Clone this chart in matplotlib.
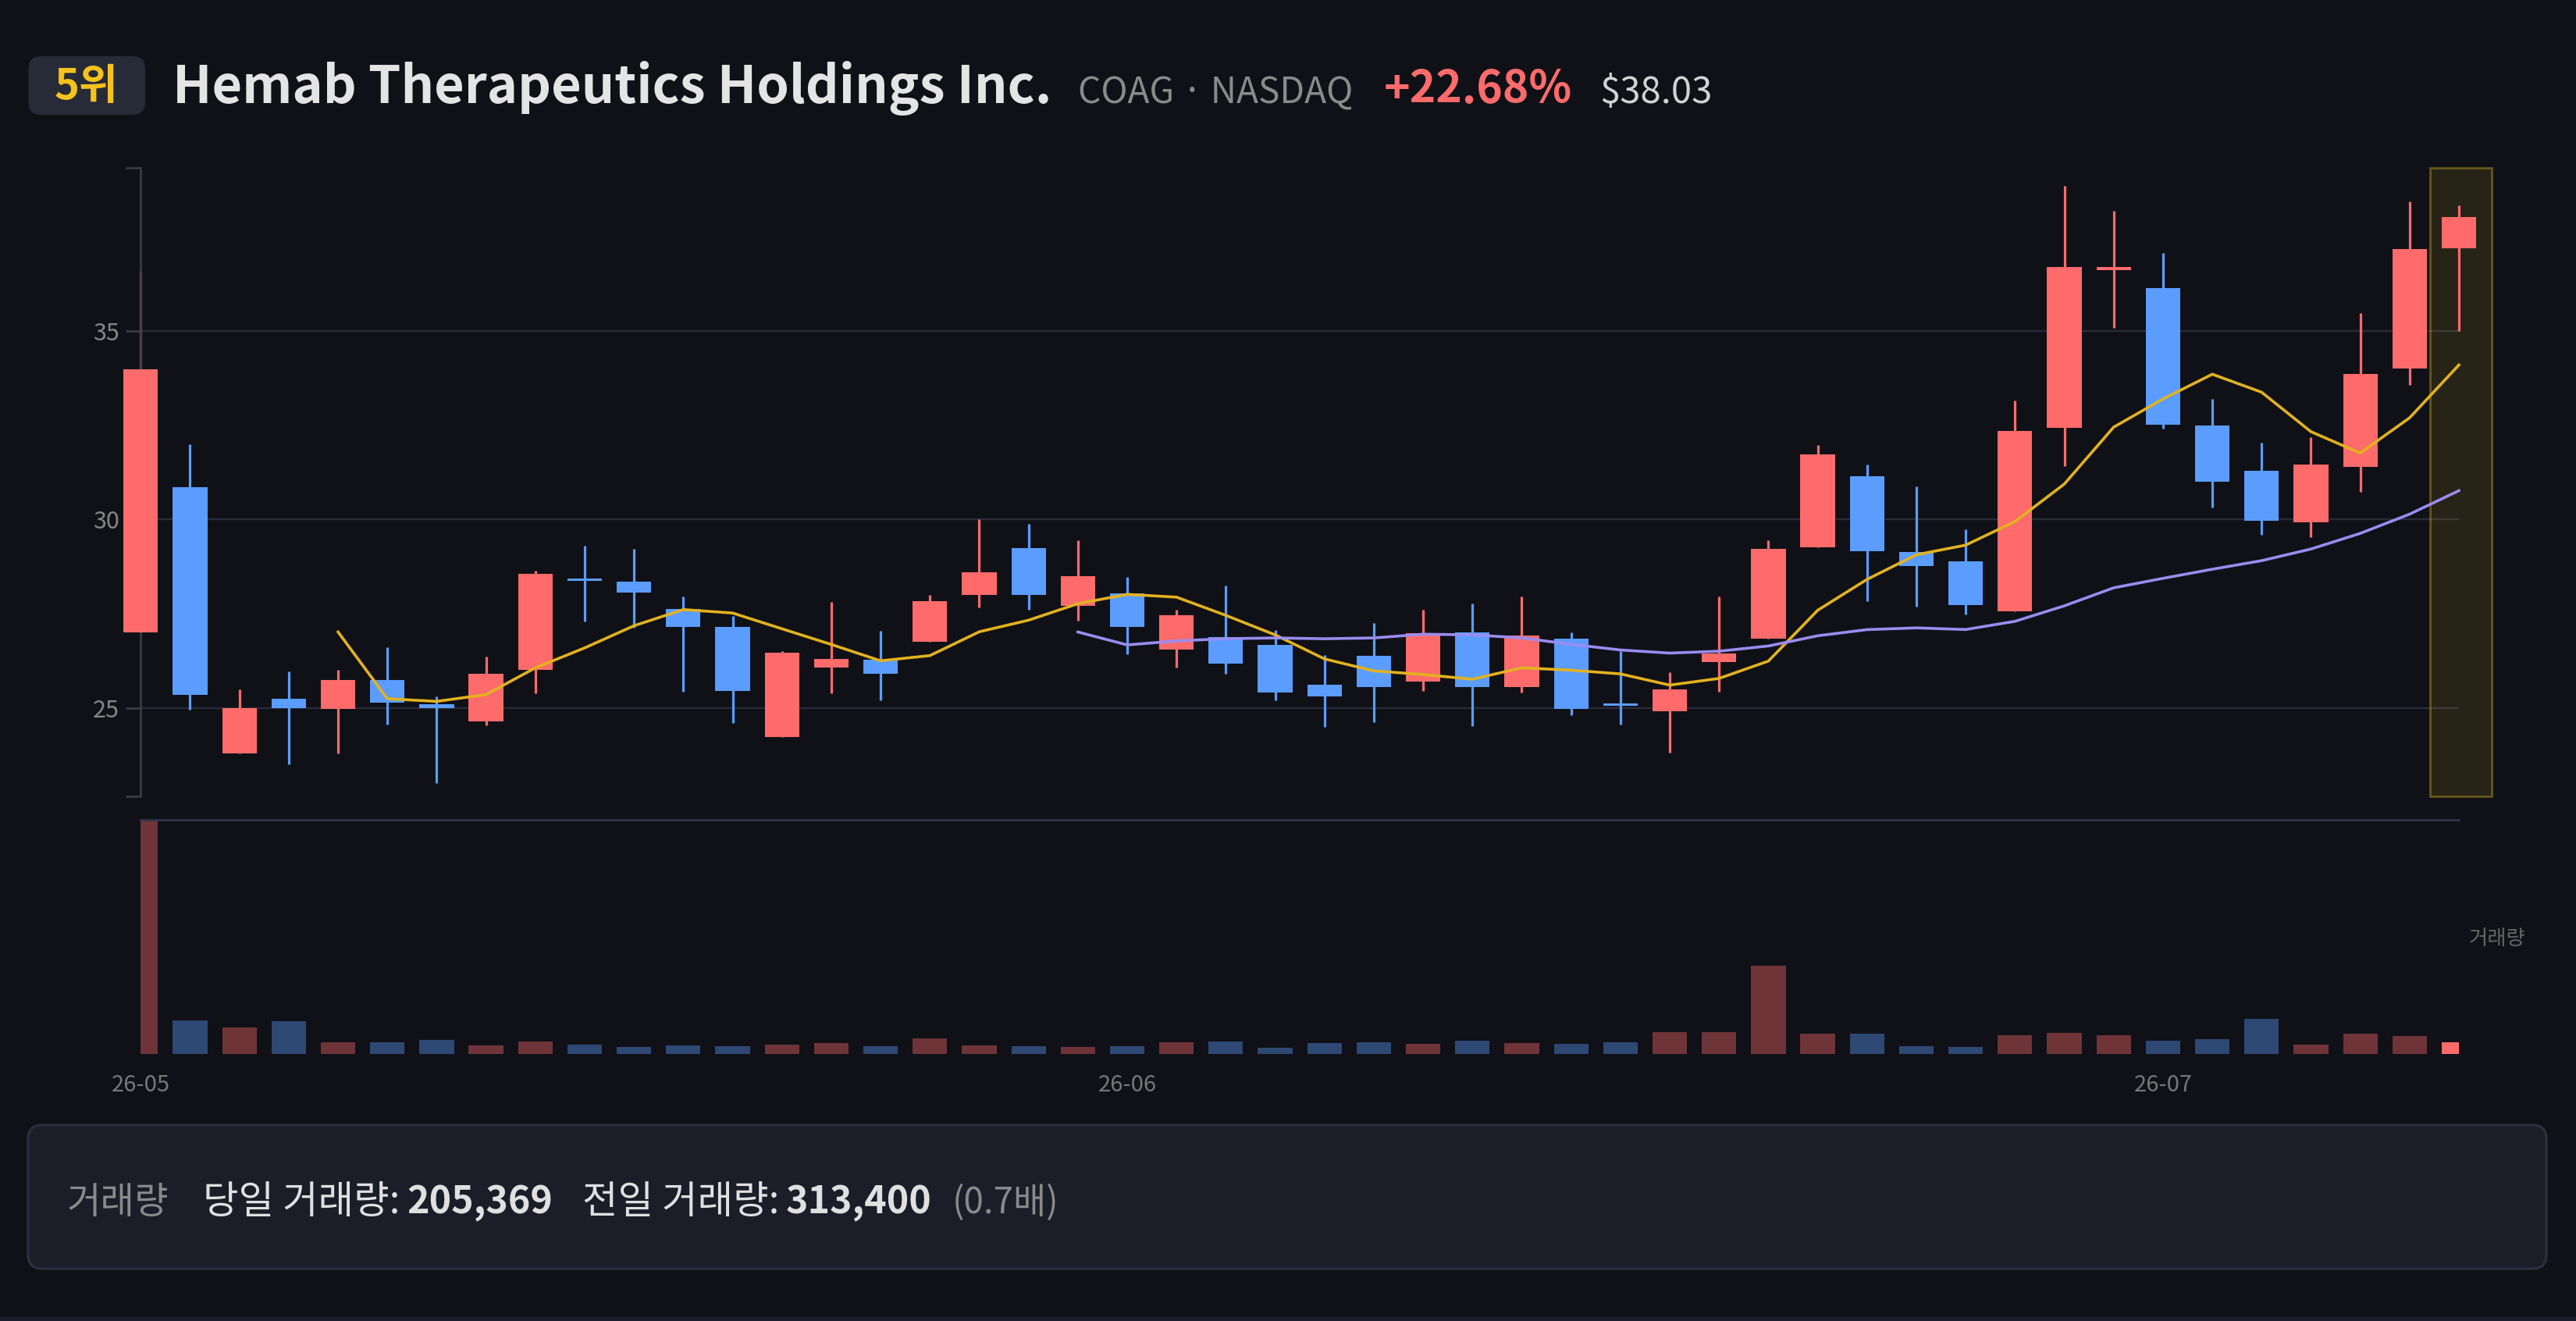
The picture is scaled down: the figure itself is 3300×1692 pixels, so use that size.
import matplotlib
matplotlib.use("Agg")
import matplotlib.pyplot as plt
from matplotlib.patches import FancyBboxPatch, Rectangle
import numpy as np
import pandas as pd

plt.rcParams['font.family'] = ['Noto Sans CJK KR', 'DejaVu Sans']

# ---------------- data ----------------
dates = (["2026-05-01"] +
         ["2026-05-%02d" % d for d in (4, 5, 6, 7, 8, 11, 12, 13, 14, 15, 18, 19, 20, 21, 22, 26, 27, 28, 29)] +
         ["2026-06-%02d" % d for d in (1, 2, 3, 4, 5, 8, 9, 10, 11, 12, 15, 16, 17, 18, 22, 23, 24, 25, 26, 29, 30)] +
         ["2026-07-%02d" % d for d in (1, 2, 6, 7, 8, 9, 10)])

opens = [27.00, 30.86, 23.80, 25.24, 24.97, 25.73, 25.09, 24.64, 26.01, 28.43,
         28.35, 27.62, 27.15, 24.22, 26.07, 26.28, 26.75, 28.00, 29.25, 27.71,
         28.05, 26.54, 26.87, 26.68, 25.62, 26.39, 25.69, 27.01, 25.55, 26.84,
         25.10, 24.91, 26.22, 26.83, 29.26, 31.15, 29.13, 28.89, 27.57, 32.44,
         36.63, 36.15, 32.50, 31.30, 29.92, 31.39, 34.01, 37.21]
highs = [36.60, 32.00, 25.50, 25.97, 26.00, 26.60, 25.30, 26.37, 28.64, 29.31,
         29.23, 27.95, 27.44, 26.51, 27.82, 27.04, 27.99, 30.00, 29.89, 29.45,
         28.47, 27.60, 28.25, 27.06, 26.40, 27.26, 27.60, 27.77, 27.96, 27.00,
         26.50, 25.95, 27.95, 29.46, 31.97, 31.47, 30.89, 29.75, 33.17, 38.87,
         38.21, 37.08, 33.21, 32.04, 32.18, 35.48, 38.45, 38.35]
lows = [27.00, 24.95, 23.80, 23.49, 23.78, 24.56, 23.00, 24.53, 25.38, 27.29,
        27.12, 25.43, 24.59, 24.22, 25.38, 25.21, 26.75, 27.67, 27.60, 27.31,
        26.42, 26.07, 25.90, 25.19, 24.50, 24.62, 25.45, 24.51, 25.41, 24.80,
        24.56, 23.81, 25.43, 26.83, 29.26, 27.83, 27.69, 27.48, 27.57, 31.43,
        35.10, 32.42, 30.32, 29.60, 29.54, 30.74, 33.58, 35.00]
closes = [34.00, 25.35, 25.00, 25.00, 25.73, 25.13, 25.00, 25.90, 28.55, 28.38,
          28.07, 27.15, 25.44, 26.46, 26.30, 25.90, 27.84, 28.60, 28.00, 28.49,
          27.14, 27.47, 26.18, 25.41, 25.30, 25.55, 26.99, 25.55, 26.93, 24.98,
          25.06, 25.50, 26.44, 29.23, 31.73, 29.16, 28.77, 27.72, 32.36, 36.71,
          36.71, 32.51, 31.01, 29.97, 31.47, 33.87, 37.19, 38.03]
volumes = [4110000, 583000, 464000, 571000, 205000, 205000, 242000, 148000, 214000, 160000,
           123000, 152000, 136000, 164000, 193000, 136000, 275000, 152000, 136000, 123000,
           136000, 201000, 218000, 111000, 193000, 205000, 181000, 234000, 193000, 172000,
           205000, 382000, 378000, 1548000, 357000, 353000, 136000, 127000, 329000, 366000,
           329000, 234000, 255000, 616000, 164000, 353000, 313400, 205369]

rank_label = "5위"
company = "Hemab Therapeutics Holdings Inc."
ticker_info = "COAG · NASDAQ"
change_text = "+22.68%"
price_text = "$38.03"
info_label = "거래량"
today_label = "당일 거래량:"
today_vol = "205,369"
prev_label = "전일 거래량:"
prev_vol = "313,400"
ratio_text = "(0.7배)"

# ---------------- styling ----------------
BG = "#0f1117"
UP = "#ff6b6b"
DOWN = "#5b9cff"
MA5_C = "#e3b21e"
MA20_C = "#9a8cf0"
GRID = "#2a2d39"
W, H = 3300, 1692
DPI = 200

df = pd.DataFrame({"date": pd.to_datetime(dates), "open": opens, "high": highs,
                   "low": lows, "close": closes, "volume": volumes})
x = np.arange(len(df))
up = df["close"] >= df["open"]
colors = np.where(up, UP, DOWN)
ma5 = df["close"].rolling(5).mean()
ma20 = df["close"].rolling(20).mean()

fig = plt.figure(figsize=(W / DPI, H / DPI), dpi=DPI, facecolor=BG)

# overlay in pixel coordinates
ov = fig.add_axes([0, 0, 1, 1], zorder=0)
ov.set_xlim(0, W)
ov.set_ylim(H, 0)
ov.axis("off")
ov.patch.set_alpha(0)

# badge
ov.add_patch(FancyBboxPatch((36.5, 72), 149.5, 75, boxstyle="round,pad=0,rounding_size=16",
                            fc="#272b37", ec="none"))
ov.text(111, 111, rank_label, color="#f5c21b", fontsize=19.5, fontweight="bold",
        ha="center", va="center")
ov.text(221, 132, company, color="#e4e4e4", fontsize=24, fontweight="bold",
        ha="left", va="baseline")
ov.text(1381, 132, ticker_info, color="#8a8a8a", fontsize=16.6, ha="left", va="baseline")
ov.text(1773, 132, change_text, color=UP, fontsize=20.5, fontweight="bold",
        ha="left", va="baseline")
ov.text(2049, 132, price_text, color="#d2d2d2", fontsize=17, ha="left", va="baseline")

# bottom info box
ov.add_patch(FancyBboxPatch((36, 1441), 3226, 184, boxstyle="round,pad=0,rounding_size=18",
                            fc="#1b1d28", ec="#2b2f3d", lw=1.2))
ov.add_patch(Rectangle((0, 1686), W, 6, fc="#1a1d2b", ec="none"))
yb = 1554
ov.text(86, yb, info_label, color="#8a8a8a", fontsize=17, ha="left", va="baseline")
ov.text(260, yb, today_label, color="#e0e0e0", fontsize=17.8, fontweight="medium",
        ha="left", va="baseline")
ov.text(521, yb, today_vol, color="#e0e0e0", fontsize=17.4, fontweight="bold",
        ha="left", va="baseline")
ov.text(746, yb, prev_label, color="#e0e0e0", fontsize=17.8, fontweight="medium",
        ha="left", va="baseline")
ov.text(1007, yb, prev_vol, color="#e0e0e0", fontsize=17.4, fontweight="bold",
        ha="left", va="baseline")
ov.text(1220, yb, ratio_text, color="#8a8a8a", fontsize=16.5, ha="left", va="baseline")
ov.text(3199, 1202, info_label, color="#666666", fontsize=9.5, ha="center", va="center")

# ---------------- price axes ----------------
left = 180.3 / W
width = (3150 - 180.3) / W
ax = fig.add_axes([left, 1 - 1020 / H, width, (1020 - 215) / H], zorder=2)
ax.patch.set_alpha(0)
ymin, ymax = 22.65, 39.34
ax.set_xlim(0, len(df) - 1)
ax.set_ylim(ymin, ymax)

for v in (25, 30, 35):
    ax.axhline(v, color=GRID, lw=0.8, zorder=0)

body_h = np.maximum(np.abs(df["close"] - df["open"]), 0.06)
body_b = np.minimum(df["close"], df["open"])
ax.vlines(x, df["low"], df["high"], colors=colors, lw=1.15, zorder=2, clip_on=False)
ax.bar(x, body_h, bottom=body_b, width=0.7, color=colors, lw=0, zorder=3, clip_on=False)
ax.plot(x, ma5, color=MA5_C, lw=1.3, zorder=4, clip_on=False)
ax.plot(x, ma20, color=MA20_C, lw=1.3, zorder=4, clip_on=False)

last = len(df) - 1
ax.add_patch(Rectangle((last - 0.58, ymin), 1.24, ymax - ymin, fc=(245/255, 197/255, 24/255, 0.10),
                       ec=(245/255, 197/255, 24/255, 0.35), lw=1.0, zorder=1, clip_on=False))

for s in ("top", "right", "bottom"):
    ax.spines[s].set_visible(False)
ax.spines["left"].set_color("#3a3b42")
ax.spines["left"].set_linewidth(1.0)
ax.set_yticks([25, 30, 35])
ax.set_yticklabels(["25", "30", "35"])
ax.set_yticks([ymin, ymax], minor=True)
ax.tick_params(axis="y", which="both", length=6.8, width=1.0, color="#3a3b42",
               labelcolor="#858585", labelsize=11, pad=3.2)
ax.set_xticks([])

# ---------------- volume axes ----------------
axv = fig.add_axes([left, 1 - 1350 / H, width, 300 / H], zorder=2)
axv.patch.set_alpha(0)
axv.set_xlim(0, len(df) - 1)
axv.set_ylim(0, max(volumes))
vcolors = [(c, 0.4) for c in colors]
vcolors[-1] = (UP, 1.0)
axv.bar(x, df["volume"], width=0.7, color=vcolors, lw=0)
for s in ("left", "right", "bottom"):
    axv.spines[s].set_visible(False)
axv.spines["top"].set_color("#2f3549")
axv.spines["top"].set_linewidth(1.0)
axv.set_yticks([])
months = df["date"].dt.strftime("%y-%m")
tick_pos = [i for i in range(len(df)) if i == 0 or months[i] != months[i - 1]]
axv.set_xticks(tick_pos)
axv.set_xticklabels([months[i] for i in tick_pos])
axv.tick_params(axis="x", length=0, pad=9, labelcolor="#777777", labelsize=10.5)

fig.savefig("out.png", dpi=DPI, facecolor=BG)
